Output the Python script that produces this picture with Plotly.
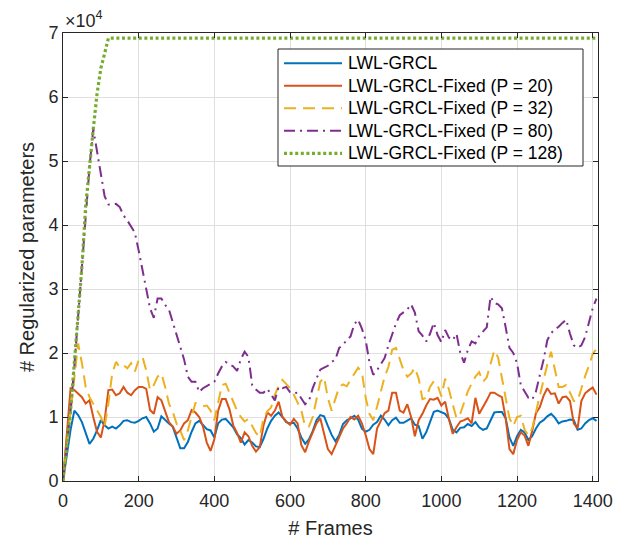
import plotly.graph_objects as go

# Frame index (every 10 frames)
frames = list(range(0, 1420, 10))

# Values in units of 10^4 regularized parameters
lwl_grcl = [
    0, 0.40, 0.80, 1.10, 1.03, 0.92, 0.74, 0.58, 0.66, 0.79,
    0.95, 0.87, 0.82, 0.85, 0.82, 0.87, 0.94, 0.95, 0.92, 0.91,
    0.94, 0.98, 1.00, 0.90, 0.77, 0.82, 1.01, 0.95, 0.90, 0.85,
    0.69, 0.51, 0.51, 0.61, 0.77, 0.90, 0.94, 0.88, 0.81, 0.79,
    0.68, 0.90, 0.96, 0.97, 0.90, 0.84, 0.73, 0.67, 0.57, 0.64,
    0.60, 0.54, 0.53, 0.66, 0.82, 0.94, 1.02, 1.07, 1.00, 0.92,
    0.90, 0.91, 0.82, 0.68, 0.58, 0.65, 0.78, 0.95, 1.03, 1.01,
    0.86, 0.72, 0.62, 0.72, 0.89, 0.95, 0.98, 1.02, 0.96, 0.82,
    0.77, 0.80, 0.88, 0.92, 1.02, 0.96, 0.87, 0.95, 0.99, 0.91,
    0.91, 0.94, 0.98, 0.88, 0.86, 0.66, 0.76, 0.92, 1.08, 1.10,
    1.08, 1.05, 0.97, 0.80, 0.76, 0.83, 0.84, 0.89, 0.86, 0.92,
    0.84, 0.80, 0.82, 0.95, 1.07, 1.08, 1.08, 0.98, 0.68, 0.55,
    0.70, 0.80, 0.76, 0.64, 0.70, 0.82, 0.91, 0.95, 1.01, 1.05,
    0.99, 0.90, 0.93, 0.94, 0.96, 0.95, 0.80, 0.82, 0.90, 0.95,
    0.98, 0.94,
]

fixed_p20 = [
    0, 0.75, 1.45, 1.42, 1.37, 1.31, 1.21, 1.26, 1.00, 0.77,
    0.68, 0.95, 1.42, 1.43, 1.34, 1.37, 1.47, 1.38, 1.34, 1.42,
    1.47, 1.47, 1.44, 1.11, 1.05, 1.31, 1.26, 1.08, 0.92, 0.85,
    0.74, 0.79, 0.90, 0.95, 1.11, 1.07, 1.00, 0.85, 0.60, 0.47,
    0.65, 1.10, 1.28, 1.28, 1.12, 0.87, 0.75, 0.60, 0.76, 0.70,
    0.55, 0.46, 0.53, 0.87, 1.07, 1.02, 1.10, 1.24, 1.00, 0.93,
    0.88, 0.97, 0.90, 0.56, 0.45, 0.62, 0.76, 0.90, 0.98, 0.73,
    0.50, 0.42, 0.55, 0.70, 0.82, 0.90, 1.00, 0.96, 1.02, 0.90,
    0.72, 0.50, 0.42, 0.82, 0.94, 1.06, 1.10, 1.38, 1.38, 1.10,
    1.07, 1.20, 1.00, 0.70, 0.95, 1.05, 1.18, 1.28, 1.27, 1.30,
    1.18, 1.24, 0.97, 0.74, 0.84, 0.93, 0.95, 0.98, 0.90, 1.30,
    1.05, 1.15, 1.26, 1.38, 1.38, 1.34, 1.31, 0.98, 0.50, 0.42,
    0.64, 0.76, 0.71, 0.55, 0.78, 1.06, 1.15, 1.33, 1.45, 1.36,
    1.37, 1.21, 1.31, 1.32, 1.25, 0.90, 0.82, 1.25, 1.37, 1.42,
    1.46, 1.35,
]

fixed_p32 = [
    0, 0.55, 1.10, 1.70, 2.15, 1.84, 1.47, 1.31, 1.21, 1.11,
    1.00, 0.85, 1.21, 1.68, 1.86, 1.78, 1.81, 1.76, 1.84, 1.71,
    1.89, 1.94, 1.73, 1.42, 1.50, 1.63, 1.68, 1.47, 1.21, 1.08,
    0.90, 0.79, 0.64, 0.79, 1.00, 1.22, 1.20, 1.17, 1.18, 1.10,
    0.95, 1.20, 1.50, 1.52, 1.38, 1.25, 1.10, 1.00, 0.93, 0.97,
    0.86, 0.75, 0.69, 0.98, 1.09, 1.15, 1.35, 1.48, 1.58, 1.52,
    1.45, 1.35, 1.22, 1.10, 0.85, 0.85, 1.00, 1.25, 1.55, 1.62,
    1.30, 1.10, 1.28, 1.47, 1.51, 1.48, 1.58, 1.68, 1.77, 1.70,
    1.30, 1.05, 0.95, 1.16, 1.40, 1.63, 1.78, 2.05, 2.08, 1.91,
    1.73, 1.63, 1.68, 1.77, 1.60, 1.28, 1.30, 1.47, 1.56, 1.50,
    1.32, 1.60, 1.43, 1.20, 0.98, 1.05, 1.24, 1.40, 1.52, 1.63,
    1.70, 1.55, 1.62, 1.82, 2.04, 1.93, 1.63, 1.28, 0.98, 0.86,
    1.00, 1.02, 0.80, 0.71, 0.82, 1.08, 1.33, 1.62, 1.82, 2.02,
    1.76, 1.47, 1.47, 1.50, 1.38, 1.25, 1.25, 1.45, 1.64, 1.80,
    1.98, 2.07,
]

fixed_p80 = [
    0, 0.55, 1.10, 1.80, 2.60, 3.40, 4.20, 4.90, 5.50, 5.15,
    4.75, 4.45, 4.32, 4.33, 4.33, 4.28, 4.15, 4.07, 3.98, 3.88,
    3.60, 3.30, 2.95, 2.70, 2.55, 2.85, 2.85, 2.75, 2.68, 2.48,
    2.28, 2.08, 1.90, 1.63, 1.55, 1.55, 1.39, 1.45, 1.48, 1.52,
    1.55, 1.68, 1.79, 1.86, 1.83, 1.79, 1.72, 1.90, 2.02, 1.94,
    1.50, 1.43, 1.38, 1.38, 1.44, 1.35, 1.26, 1.47, 1.45, 1.47,
    1.39, 1.37, 1.38, 1.29, 1.20, 1.25, 1.45, 1.60, 1.74, 1.77,
    1.80, 1.86, 1.90, 2.08, 2.13, 2.20, 2.26, 2.45, 2.52, 2.38,
    2.20, 1.85, 1.66, 1.73, 1.82, 1.92, 2.12, 2.30, 2.46, 2.59,
    2.64, 2.68, 2.76, 2.63, 2.34, 2.27, 2.18, 2.30, 2.47, 2.28,
    2.17, 2.36, 2.24, 2.20, 2.30, 2.00, 1.85, 2.05, 2.18, 2.15,
    2.27, 2.34, 2.40, 2.88, 2.78, 2.76, 2.70, 2.40, 2.08, 2.00,
    1.84, 1.50, 1.40, 1.30, 1.27, 1.40, 1.65, 1.89, 2.20, 2.31,
    2.37, 2.41, 2.47, 2.52, 2.30, 2.12, 2.08, 2.12, 2.25, 2.47,
    2.70, 2.85,
]

p128_frames = [0, 10, 20, 30, 40, 50, 60, 70, 80, 90, 100, 110, 120, 1414]
fixed_p128 = [0, 0.55, 1.10, 1.85, 2.60, 3.35, 4.30, 4.97, 5.50, 6.05, 6.45, 6.68, 6.92, 6.92]

names = ["LWL-GRCL", "LWL-GRCL-Fixed (P = 20)", "LWL-GRCL-Fixed (P = 32)",
         "LWL-GRCL-Fixed (P = 80)", "LWL-GRCL-Fixed (P = 128)"]
x_ticks = [0, 200, 400, 600, 800, 1000, 1200, 1400]
y_ticks = [0, 1, 2, 3, 4, 5, 6, 7]

FONT = "Liberation Sans, Arial, sans-serif"
AX = "#262626"

W, H = 624, 539
ML, MR, MT, MB = 63, 26, 33, 58
PW, PH = W - ML - MR, H - MT - MB


def px_x(p):
    return (p - ML) / PW


def px_y(p):
    return (H - MB - p) / PH


styles = [
    dict(color="#0072BD", width=2),
    dict(color="#D95319", width=2),
    dict(color="#EDB120", width=2, dash="12px,7px"),
    dict(color="#7E2F8E", width=2, dash="11px,5px,2px,5px"),
    dict(color="#77AC30", width=3.2, dash="3px,2.6px"),
]
series_x = [frames, frames, frames, frames, p128_frames]
series_y = [lwl_grcl, fixed_p20, fixed_p32, fixed_p80, fixed_p128]

fig = go.Figure()
for nm, xs, ys, st in zip(names, series_x, series_y, styles):
    fig.add_trace(go.Scatter(x=xs, y=ys, mode="lines", name=nm, line=st, showlegend=False))

axis_common = dict(
    showline=True, linecolor=AX, linewidth=1, mirror="allticks",
    ticks="inside", ticklen=5, tickcolor=AX, tickwidth=1,
    showgrid=True, gridcolor="#dfdfdf", gridwidth=1, zeroline=False,
    tickfont=dict(family=FONT, size=18, color=AX), automargin=False,
)

fig.update_layout(
    width=W, height=H,
    margin=dict(l=ML, r=MR, t=MT, b=MB),
    paper_bgcolor="white", plot_bgcolor="white",
    font=dict(family=FONT, color=AX),
    xaxis=dict(range=[0, 1414], tickvals=x_ticks, ticklabelstandoff=3, **axis_common,
               title=dict(text="# Frames", font=dict(family=FONT, size=20, color=AX), standoff=14)),
    yaxis=dict(range=[0, 7], tickvals=y_ticks, **axis_common,
               title=dict(text="# Regularized parameters", font=dict(family=FONT, size=20, color=AX), standoff=8)),
    showlegend=False,
)

# Legend box (drawn like MATLAB's)
fig.add_shape(type="rect", xref="paper", yref="paper",
              x0=px_x(278), x1=px_x(583), y0=px_y(166), y1=px_y(49),
              fillcolor="white", line=dict(color=AX, width=1), layer="above")
row_y = [63.3, 85.8, 108.3, 130.8, 153.3]
for nm, st, ry in zip(names, styles, row_y):
    fig.add_shape(type="line", xref="paper", yref="paper",
                  x0=px_x(284), x1=px_x(342), y0=px_y(ry), y1=px_y(ry),
                  line=st, layer="above")
    fig.add_annotation(xref="paper", yref="paper", x=px_x(346), y=px_y(ry),
                       xanchor="left", yanchor="middle", text=nm, showarrow=False,
                       font=dict(family=FONT, size=17.5, color="black"))

fig.add_annotation(xref="paper", yref="paper", x=px_x(63), y=1.0, xanchor="left", yanchor="bottom",
                   text="×10<sup>4</sup>", showarrow=False,
                   font=dict(family=FONT, size=18, color=AX))

fig.write_html("out.html", config={"displayModeBar": False},
               post_script="document.body.style.margin='0';document.body.style.padding='0';")
